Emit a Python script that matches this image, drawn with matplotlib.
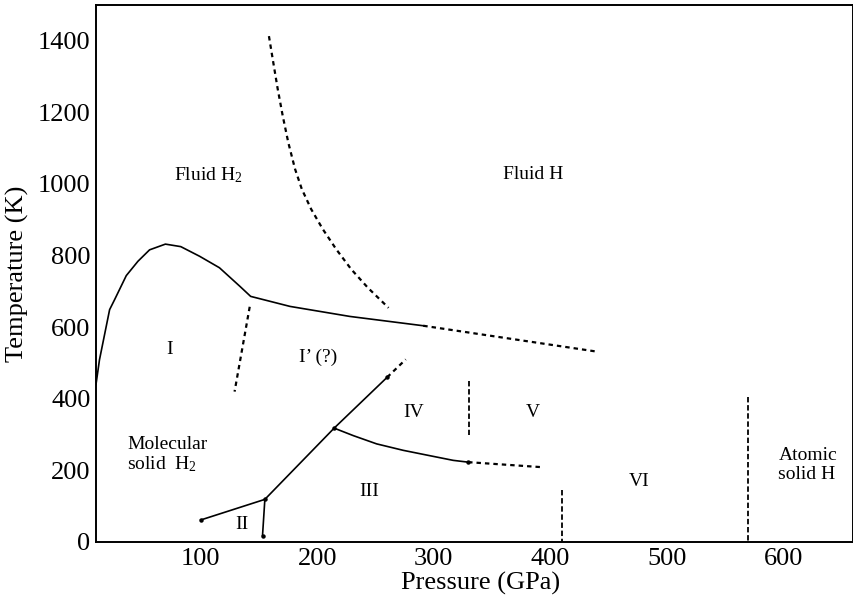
import matplotlib
matplotlib.use("Agg")
import matplotlib.pyplot as plt

plt.rcParams['font.family'] = ['Liberation Serif', 'DejaVu Serif']
plt.rcParams['mathtext.default'] = 'regular'

# Melting line (solid part) and its dotted extension
melt_P = [10, 13, 21.7, 26, 36, 46, 56, 69.6, 82.8, 99, 116, 133.6, 142.8, 176.6, 228, 291]
melt_T = [440, 509, 649, 677, 744, 784, 816, 832, 825, 798, 766, 714, 686, 658, 630, 604]
melt_ext_P = [291, 441.6]
melt_ext_T = [604, 531]

# I / I' boundary (dotted)
iip_P = [142, 129]
iip_T = [657, 420]

# Molecular / atomic fluid crossover (dotted)
fluid_P = [158.5, 162.2, 166.0, 170.3, 175.1, 180.9, 186.7, 194.7, 204.7, 216.2, 229.1, 243.5, 261.2]
fluid_T = [1413, 1340, 1266, 1191, 1116, 1042, 986, 930, 874, 818, 762, 710, 654]

# Phase II boundaries
ii_P = [100, 155]
ii_T = [61.5, 119]
ii_v_P = [155, 153]
ii_v_T = [119, 18]

# III boundary to I' (solid) and its dashed extension
iii_P = [155, 214.5, 260]
iii_T = [119, 318, 460]
iii_ext_P = [260, 276]
iii_ext_T = [460, 510]

# III / IV boundary
iv_P = [214.5, 231, 251, 273.8, 296.7, 316.7, 329.5]
iv_T = [318, 297, 274, 256, 241, 228, 223]
iv_ext_P = [329.5, 392.6]
iv_ext_T = [223, 209]

# Vertical dashed boundaries
v45_P = [330.4, 330.4]
v45_T = [451, 299]
v36_P = [410.4, 410.4]
v36_T = [145, 0]
vat_P = [570, 570]
vat_T = [406, 0]

# Marked points
dot_P = [100, 155, 153, 214.5, 260, 329.5]
dot_T = [61.5, 119, 18, 318, 460, 223]

labels = [
    ("Fluid H$_2$", 106, 1026, 'center'),
    ("Fluid H", 385, 1026, 'center'),
    ("I", 73, 537, 'center'),
    ("I\u2019 (?)", 200.7, 517, 'center'),
    ("IV", 283, 361, 'center'),
    ("V", 385, 361, 'center'),
    ("III", 244.6, 140, 'center'),
    ("II", 135, 48, 'center'),
    ("VI", 476, 168, 'center'),
    ("Molecular\nsolid  H$_2$", 37, 243, 'left'),
    ("Atomic\nsolid H", 596, 215, 'left'),
]

fig = plt.figure(figsize=(8.54, 5.99), dpi=100)
ax = fig.add_axes([0.1124, 0.0952, 0.8864, 0.8965])

lw = 1.2
dot_style = dict(color='black', lw=1.6, dashes=(2.0, 1.8))
ax.plot(melt_P, melt_T, color='black', lw=lw)
ax.plot(melt_ext_P, melt_ext_T, **dot_style)
ax.plot(iip_P, iip_T, **dot_style)
ax.plot(fluid_P, fluid_T, **dot_style)
ax.plot(ii_P, ii_T, color='black', lw=lw)
ax.plot(ii_v_P, ii_v_T, color='black', lw=lw)
ax.plot(iii_P, iii_T, color='black', lw=lw)
ax.plot(iii_ext_P, iii_ext_T, **dot_style)
ax.plot(iv_P, iv_T, color='black', lw=lw)
ax.plot(iv_ext_P, iv_ext_T, **dot_style)
dash_v = dict(color='black', lw=1.3, dashes=(3.0, 1.5))
ax.plot(v45_P, v45_T, **dash_v)
ax.plot(v36_P, v36_T, **dash_v)
ax.plot(vat_P, vat_T, **dash_v)
ax.plot(dot_P, dot_T, 'o', color='black', ms=2.2, ls='none')

for txt, x, y, ha in labels:
    ax.text(x, y, txt, ha=ha, va='center', fontsize=14, linespacing=1.1)

ax.set_xlim(10, 660)
ax.set_ylim(0, 1500)
ax.set_xticks([100, 200, 300, 400, 500, 600])
ax.set_yticks([0, 200, 400, 600, 800, 1000, 1200, 1400])
ax.tick_params(length=0, labelsize=19, pad=4)
for s in ax.spines.values():
    s.set_linewidth(1.4)
ax.set_xlabel("Pressure (GPa)", fontsize=19, labelpad=2, x=0.508)
ax.set_ylabel("Temperature (K)", fontsize=19, labelpad=6)

fig.savefig("out.png", dpi=100)
